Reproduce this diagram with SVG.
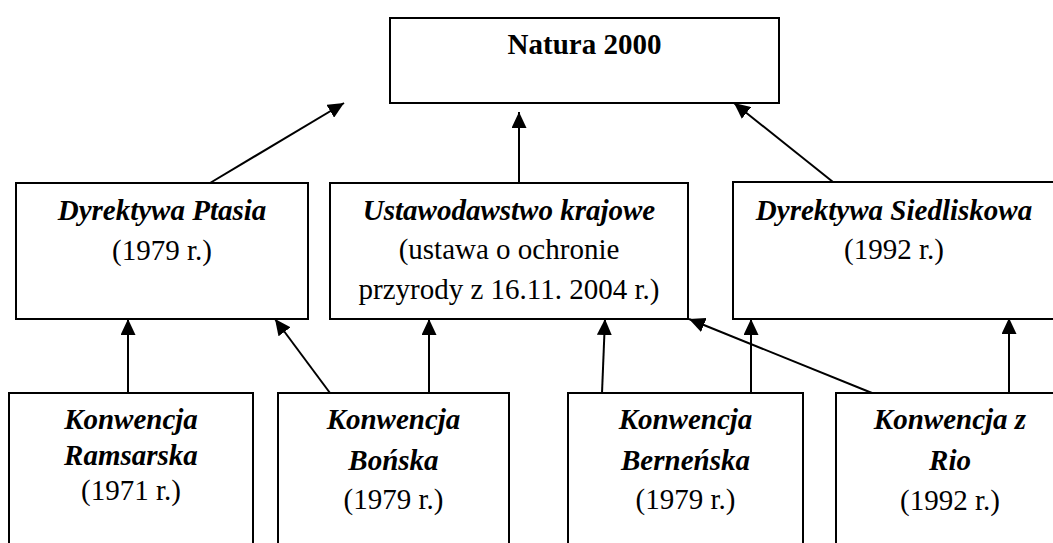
<svg xmlns="http://www.w3.org/2000/svg" width="1053" height="543" viewBox="0 0 1053 543">
<style>
.box{fill:#fff;stroke:#000;stroke-width:2}
.t{font-family:"Liberation Serif","Times New Roman",serif;font-size:29px;text-anchor:middle;fill:#000}
.bi{font-weight:bold;font-style:italic}
.b{font-weight:bold}
.c{stroke:#000;stroke-width:2;fill:none;marker-end:url(#ah)}
</style>
<defs>
<marker id="ah" markerUnits="userSpaceOnUse" markerWidth="16" markerHeight="15" refX="16" refY="7.5" orient="auto">
<path d="M0,0 L16,7.5 L0,15 z" fill="#000"/>
</marker>
</defs>
<rect width="1053" height="543" fill="#fff"/>
<g id="connectors">
<line class="c" x1="210" y1="183" x2="344" y2="103"/>
<line class="c" x1="519" y1="183" x2="519" y2="112"/>
<line class="c" x1="833" y1="182" x2="734" y2="103"/>
<line class="c" x1="128" y1="393" x2="128" y2="319"/>
<line class="c" x1="330" y1="393" x2="275" y2="319"/>
<line class="c" x1="429" y1="393" x2="429" y2="319"/>
<line class="c" x1="602" y1="393" x2="605" y2="319"/>
<line class="c" x1="751" y1="393" x2="751" y2="319"/>
<line class="c" x1="872" y1="393" x2="689" y2="319"/>
<line class="c" x1="1009" y1="393" x2="1009" y2="318"/>
</g>
<g id="natura">
<rect class="box" x="390" y="18" width="389" height="85"/>
<text class="t b" x="584.5" y="54">Natura 2000</text>
</g>
<g id="ptasia">
<rect class="box" x="16" y="183" width="292" height="136"/>
<text class="t" x="162" y="220"><tspan class="bi">Dyrektywa Ptasia</tspan><tspan x="162" y="260">(1979 r.)</tspan></text>
</g>
<g id="ustawodawstwo">
<rect class="box" x="330" y="183" width="358" height="136"/>
<text class="t" x="509" y="220"><tspan class="bi">Ustawodawstwo krajowe</tspan><tspan x="509" y="259">(ustawa o ochronie</tspan><tspan x="509" y="299">przyrody z 16.11. 2004 r.)</tspan></text>
</g>
<g id="siedliskowa">
<rect class="box" x="733" y="182" width="322" height="137"/>
<text class="t" x="894" y="220"><tspan class="bi">Dyrektywa Siedliskowa</tspan><tspan x="894" y="259">(1992 r.)</tspan></text>
</g>
<g id="ramsarska">
<rect class="box" x="9" y="393" width="244" height="170"/>
<text class="t" x="131" y="429"><tspan class="bi">Konwencja</tspan><tspan class="bi" x="131" y="465">Ramsarska</tspan><tspan x="131" y="500">(1971 r.)</tspan></text>
</g>
<g id="bonska">
<rect class="box" x="278" y="393" width="231" height="170"/>
<text class="t" x="393.5" y="429"><tspan class="bi">Konwencja</tspan><tspan class="bi" x="393.5" y="470">Bońska</tspan><tspan x="393.5" y="509">(1979 r.)</tspan></text>
</g>
<g id="bernenska">
<rect class="box" x="568" y="393" width="235" height="170"/>
<text class="t" x="685.5" y="429"><tspan class="bi">Konwencja</tspan><tspan class="bi" x="685.5" y="470">Berneńska</tspan><tspan x="685.5" y="509">(1979 r.)</tspan></text>
</g>
<g id="rio">
<rect class="box" x="836" y="393" width="228" height="170"/>
<text class="t" x="950" y="429"><tspan class="bi">Konwencja z</tspan><tspan class="bi" x="950" y="470">Rio</tspan><tspan x="950" y="510">(1992 r.)</tspan></text>
</g>
</svg>
